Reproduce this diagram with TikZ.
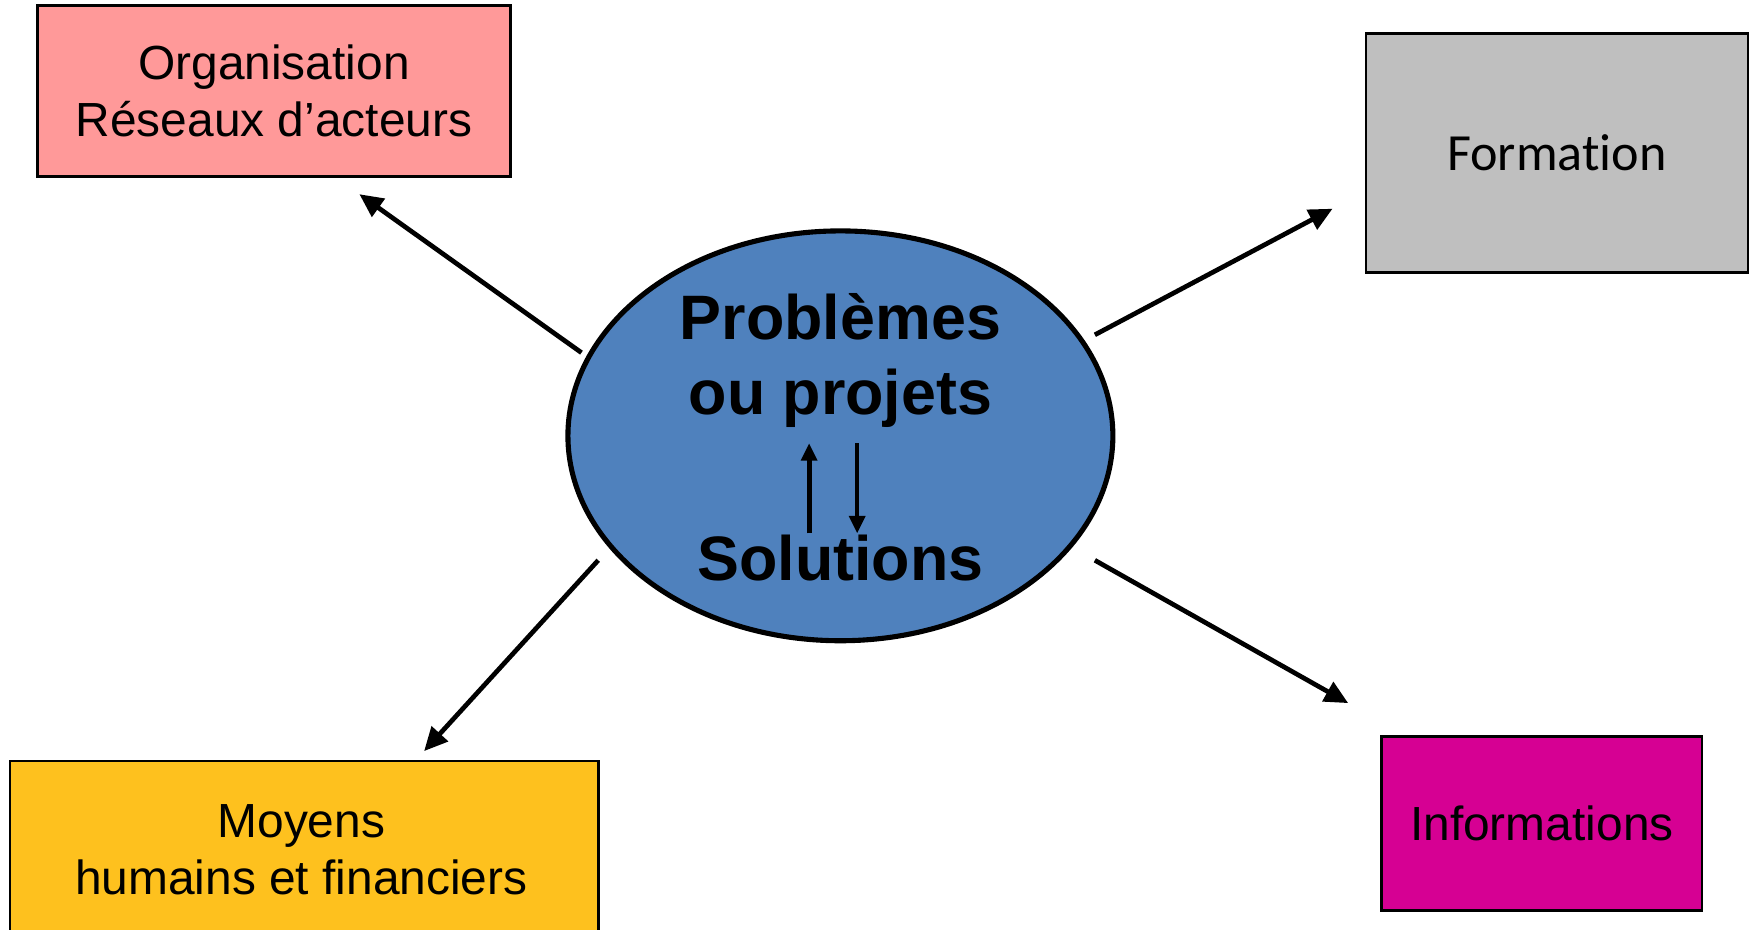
\documentclass[tikz,border=0pt]{standalone}
\usepackage{fontspec}
\setmainfont{Liberation Sans}
\newfontfamily\calib[Ligatures=NoCommon]{Carlito}
\usetikzlibrary{arrows.meta,shapes.geometric}

\definecolor{rose}{HTML}{FF9999}
\definecolor{gris}{HTML}{BFBFBF}
\definecolor{jaune}{HTML}{FEC11E}
\definecolor{magenta}{HTML}{D60093}
\definecolor{bleu}{HTML}{4F81BD}

\begin{document}
\begin{tikzpicture}[x=0.01cm,y=-0.01cm,
    boite/.style={draw,line width=0.7pt,align=center,inner sep=0pt,font=\fontsize{12.2}{14.5}\selectfont},
    fleche/.style={line width=1.2pt,-{Triangle[length=6pt,width=5.5pt]}},
    petite/.style={line width=1.2pt,-{Triangle[length=4.5pt,width=4pt]}}]
    \useasboundingbox (0,0) rectangle (1568,833);

        \node[boite,fill=rose,minimum width=4.23cm,minimum height=1.53cm] (orga) at (245.5,81.5) {Organisation\\R\'eseaux d'acteurs};
        \node[boite,fill=gris,minimum width=3.42cm,minimum height=2.14cm,font=\calib\fontsize{13.3}{15}\selectfont] (forma) at (1395,137) {Formation};
        \node[boite,fill=jaune,minimum width=5.27cm,minimum height=1.68cm] (moyens) at (272.5,766) {};
        \node[align=center,font=\fontsize{12.2}{14.5}\selectfont] (moytxt) at (270,761) {Moyens\\humains et financiers};
        \node[boite,fill=magenta,minimum width=2.87cm,minimum height=1.56cm] (info) at (1381.5,738) {Informations};

        \node[ellipse,draw,line width=1.3pt,fill=bleu,minimum width=4.88cm,minimum height=3.67cm,inner sep=0pt] (centre) at (753,390.5) {};
        \node[align=center,font=\bfseries\fontsize{16}{19}\selectfont] (prob) at (753,323) {Probl\`emes\\ou projets};
        \node[font=\bfseries\fontsize{16}{19}\selectfont] (sol) at (753,500) {Solutions};

    \coordinate (s1) at (725,478);
    \coordinate (p1) at (725,397);
    \coordinate (p2) at (768,397);
    \coordinate (s2) at (768,478);
        \draw[petite] (s1) -- (p1);
        \draw[petite] (p2) -- (s2);

    % fleches vers les boites
    \coordinate (a1) at (521,316);
    \coordinate (a2) at (981,300);
    \coordinate (a3) at (536,502);
    \coordinate (a4) at (981,502);
    \coordinate (b1) at (322,174);
    \coordinate (b2) at (1194,187);
    \coordinate (b3) at (380,673);
    \coordinate (b4) at (1208,630);
        \draw[fleche] (a1) -- (b1);
        \draw[fleche] (a2) -- (b2);
        \draw[fleche] (a3) -- (b3);
        \draw[fleche] (a4) -- (b4);
    \end{tikzpicture}
\end{document}
